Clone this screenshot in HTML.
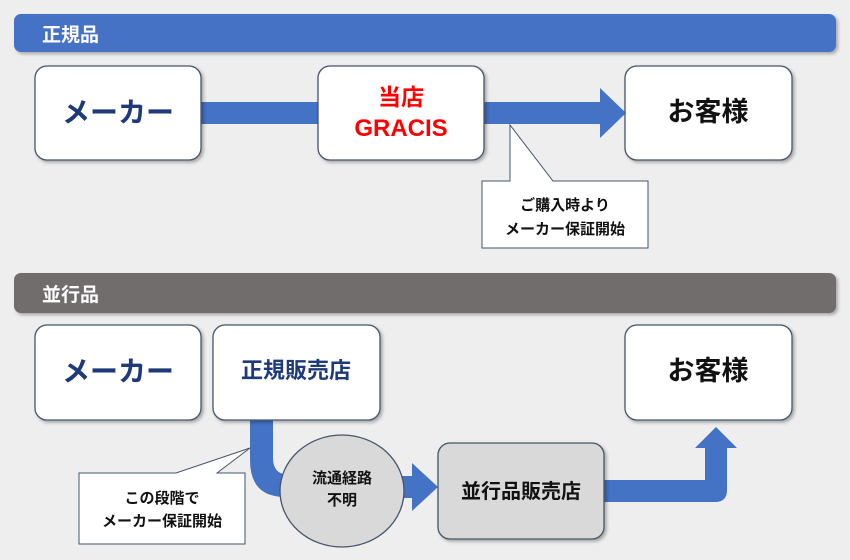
<!DOCTYPE html>
<html><head><meta charset="utf-8"><style>
html,body{margin:0;padding:0;background:#eeeeee;}
svg{display:block;}
text{font-family:"Liberation Sans","Noto Sans CJK JP",sans-serif;font-weight:bold;}
</style></head><body>
<svg width="850" height="560" viewBox="0 0 850 560" xmlns="http://www.w3.org/2000/svg">
<defs>
<filter id="sh" x="-10%" y="-10%" width="130%" height="130%"><feDropShadow dx="2" dy="2" stdDeviation="1.5" flood-color="#000" flood-opacity="0.3"/></filter>
</defs>
<rect width="850" height="560" fill="#eeeeee"/>
<rect x="14" y="14" width="822" height="38" rx="7" fill="#4472c4" filter="url(#sh)"/>
<text x="42" y="41" font-size="19" fill="#fff">正規品</text>
<rect x="200" y="102" width="120" height="22" fill="#4472c4"/>
<polygon points="484,102 600,102 600,88 626,113 600,138 600,124 484,124" fill="#4472c4"/>
<rect x="35" y="66" width="166" height="94" rx="12" fill="#fff" stroke="#44546a" stroke-width="1.3" filter="url(#sh)"/>
<text x="118" y="122" font-size="28" fill="#1f3a7a" text-anchor="middle">メーカー</text>
<rect x="318" y="66" width="166" height="94" rx="12" fill="#fff" stroke="#44546a" stroke-width="1.3" filter="url(#sh)"/>
<text x="401" y="105" font-size="23" fill="#ff0000" text-anchor="middle">当店</text>
<text x="401" y="136" font-size="24" fill="#ff0000" text-anchor="middle">GRACIS</text>
<rect x="625" y="66" width="167" height="94" rx="12" fill="#fff" stroke="#44546a" stroke-width="1.3" filter="url(#sh)"/>
<text x="708" y="121" font-size="27" fill="#111" text-anchor="middle">お客様</text>
<path d="M482,181 L510,181 L510,125 L553,181 L648,181 L648,248 L482,248 Z" fill="#fff" stroke="#44546a" stroke-width="1"/>
<text x="565" y="210" font-size="15" fill="#111" text-anchor="middle">ご購入時より</text>
<text x="565" y="234" font-size="15" fill="#111" text-anchor="middle">メーカー保証開始</text>
<rect x="14" y="273" width="822" height="40" rx="7" fill="#716d6d" filter="url(#sh)"/>
<text x="42" y="301" font-size="19" fill="#fff">並行品</text>
<path d="M250,415 L250,460 Q250,497 285,497 L300,497 L300,475 L290,475 Q273,475 273,458 L273,415 Z" fill="#4472c4"/>
<polygon points="395,476 412,476 412,463 438,487 412,511 412,498 395,498" fill="#4472c4"/>
<path d="M600,480 L705,480 L705,448 L695,448 L716,427 L737,448 L727,448 L727,490 Q727,502 715,502 L600,502 Z" fill="#4472c4"/>
<rect x="35" y="325" width="166" height="95" rx="12" fill="#fff" stroke="#44546a" stroke-width="1.3" filter="url(#sh)"/>
<text x="118" y="381" font-size="28" fill="#1f3a7a" text-anchor="middle">メーカー</text>
<rect x="213" y="325" width="167" height="95" rx="12" fill="#fff" stroke="#44546a" stroke-width="1.3" filter="url(#sh)"/>
<text x="296" y="378" font-size="22" fill="#1f3a7a" text-anchor="middle">正規販売店</text>
<rect x="625" y="325" width="167" height="95" rx="12" fill="#fff" stroke="#44546a" stroke-width="1.3" filter="url(#sh)"/>
<text x="708" y="380" font-size="27" fill="#111" text-anchor="middle">お客様</text>
<ellipse cx="342" cy="491" rx="62" ry="56" fill="#d9d9d9" stroke="#44546a" stroke-width="1.3"/>
<text x="342" y="483" font-size="15" fill="#111" text-anchor="middle">流通経路</text>
<text x="342" y="505" font-size="15" fill="#111" text-anchor="middle">不明</text>
<rect x="438" y="443" width="166" height="96" rx="12" fill="#d9d9d9" stroke="#44546a" stroke-width="1.3" filter="url(#sh)"/>
<text x="521" y="498" font-size="20" fill="#111" text-anchor="middle">並行品販売店</text>
<path d="M79,473 L176,473 L250,448 L217,473 L245,473 L245,544 L79,544 Z" fill="#fff" stroke="#44546a" stroke-width="1"/>
<text x="162" y="503" font-size="15" fill="#111" text-anchor="middle">この段階で</text>
<text x="162" y="526" font-size="15" fill="#111" text-anchor="middle">メーカー保証開始</text>
</svg>
</body></html>
